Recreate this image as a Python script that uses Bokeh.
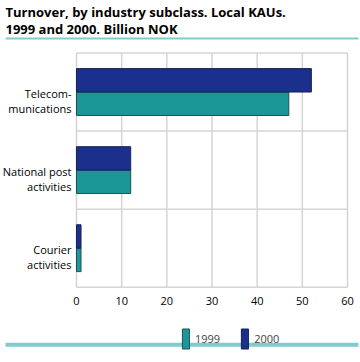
from bokeh.plotting import figure
from bokeh.models import (ColumnDataSource, FactorRange, Range1d, Legend, LegendItem,
                          FixedTicker, LinearAxis)
from bokeh.core.properties import value
from bokeh.transform import dodge
from bokeh.embed import file_html
from bokeh.resources import INLINE

categories = ["Courier\nactivities", "National post\nactivities", "Telecom-\nmunications"]
values_1999 = [1.0, 12.0, 47.0]
values_2000 = [1.0, 12.0, 52.0]
series_names = ["1999", "2000"]
x_ticks = [0, 10, 20, 30, 40, 50, 60]
title_text = "Turnover, by industry subclass. Local KAUs.\n1999 and 2000. Billion NOK"

TEAL = "#1b9797"
NAVY = "#1b2f8c"
RULE = "#80cccc"
GRID = "#d4d4d4"
FONT = "Open Sans"

# ---- layout constants (pixels) ----
W, H = 360, 362
FRAME_TOP = 43
PLOT_LEFT_PX, PLOT_RIGHT_PX = 76, 347
RULE_L_PX, RULE_R_PX = 5, 358
upp = (x_ticks[-1] - x_ticks[0]) / (PLOT_RIGHT_PX - PLOT_LEFT_PX)
x_lo = x_ticks[0] - PLOT_LEFT_PX * upp
x_hi = x_ticks[-1] + (W - PLOT_RIGHT_PX) * upp

# ---- categorical layout: blank group below the category bands ----
FPAD = 0.4                 # padding between category factors
BAND = 1 + FPAD            # pitch of one category band
RPAD = FPAD + 0.06         # range padding (half at each end)
BAR_H = 0.3 * BAND
BLANK = ("x", " ")
cat_keys = [("y", c) for c in categories]

y_range = FactorRange(BLANK, *cat_keys, factor_padding=FPAD, group_padding=0,
                      range_padding=RPAD, range_padding_units="absolute")

src = ColumnDataSource(dict(cat=cat_keys, label=categories,
                            v1999=values_1999, v2000=values_2000))
n = len(x_ticks)

p = figure(
    y_range=y_range, x_range=Range1d(x_lo, x_hi),
    frame_width=W, frame_height=H - FRAME_TOP,
    min_border_left=0, min_border_right=0, min_border_top=0, min_border_bottom=0,
    output_backend="svg", toolbar_location=None,
)
p.xaxis.visible = False
p.yaxis.visible = False
p.grid.visible = False
p.outline_line_color = None

p.title.text = title_text
p.title.align = "left"
p.title.offset = RULE_L_PX
p.title.text_font = FONT
p.title.text_font_size = "13px"
p.title.text_font_style = "bold"
p.title.text_color = "#000000"
p.title.standoff = 1
p.title.text_line_height = 0.97

# ---- grid and box of the plotting area (thin rects) ----
x_mid = (x_ticks[0] + x_ticks[-1]) / 2
p.rect(x="x", y="y", width=1.5, width_units="screen", height=BAND * len(categories),
       source=ColumnDataSource(dict(x=x_ticks, y=[cat_keys[1]] * n)),
       fill_color=GRID, line_color=None)
p.rect(x=x_mid, y=dodge("cat", BAND / 2, range=y_range), width=x_ticks[-1] - x_ticks[0],
       height=1.5, height_units="screen", source=ColumnDataSource(dict(cat=cat_keys)),
       fill_color=GRID, line_color=None)
p.rect(x=x_mid, y=dodge("cat", -BAND / 2, range=y_range), width=x_ticks[-1] - x_ticks[0],
       height=1.5, height_units="screen", source=ColumnDataSource(dict(cat=cat_keys[:1])),
       fill_color=GRID, line_color=None)

# ---- bars ----
r1 = p.hbar(y=dodge("cat", -BAR_H / 2, range=y_range), right="v1999", height=BAR_H,
            source=src, fill_color=TEAL, line_color="#1f4f55", line_width=1)
r2 = p.hbar(y=dodge("cat", BAR_H / 2, range=y_range), right="v2000", height=BAR_H,
            source=src, fill_color=NAVY, line_color="#1a2050", line_width=1)

# ---- category labels ----
p.text(x=x_ticks[0], y="cat", text="label", source=src, x_offset=-5, y_offset=9,
       text_align="right", text_baseline="middle", text_font=value(FONT),
       text_font_size="11px", text_color="#000000", text_line_height=1.0)

# ---- value tick labels ----
ticklab = ColumnDataSource(dict(x=x_ticks, y=[cat_keys[0]] * n,
                                text=[str(t) for t in x_ticks]))
p.text(x="x", y=dodge("y", -BAND / 2, range=y_range), text="text", source=ticklab,
       y_offset=14, text_align="center", text_baseline="middle", text_font=value(FONT),
       text_font_size="11px", text_color="#000000")

# ---- teal rule under the title (axis line) ----
spacer = LinearAxis(ticker=FixedTicker(ticks=[]), axis_line_color=None,
                    major_tick_out=8, major_tick_in=0, major_tick_line_color=None,
                    minor_tick_line_color=None, major_label_standoff=0)
rule_top = LinearAxis(ticker=FixedTicker(ticks=[]), axis_line_color=RULE, axis_line_width=2,
                      major_tick_out=0, major_tick_in=0, major_tick_line_color=None,
                      minor_tick_line_color=None, major_label_standoff=0,
                      bounds=(x_lo + RULE_L_PX * upp, x_lo + RULE_R_PX * upp))
p.add_layout(spacer, "above")
p.add_layout(rule_top, "above")

# ---- teal rule at the bottom ----
p.rect(x=x_lo + (RULE_L_PX + RULE_R_PX) / 2 * upp,
       y=dodge("y", -(0.5 + RPAD / 2), range=y_range),
       width=(RULE_R_PX - RULE_L_PX) * upp, height=4, height_units="screen",
       source=ColumnDataSource(dict(y=[BLANK])), fill_color=RULE, line_color=None)

# ---- legend ----
legend = Legend(
    items=[LegendItem(label=series_names[0], renderers=[r1]),
           LegendItem(label=series_names[1], renderers=[r2])],
    orientation="horizontal", location=(181, 6),
    glyph_width=9, glyph_height=25, label_text_font=FONT, label_text_font_size="11px",
    spacing=20, padding=0, margin=0, border_line_color=None, background_fill_alpha=0,
    label_standoff=5,
)
p.add_layout(legend, "center")

open("out.html", "w").write(file_html(p, INLINE))
